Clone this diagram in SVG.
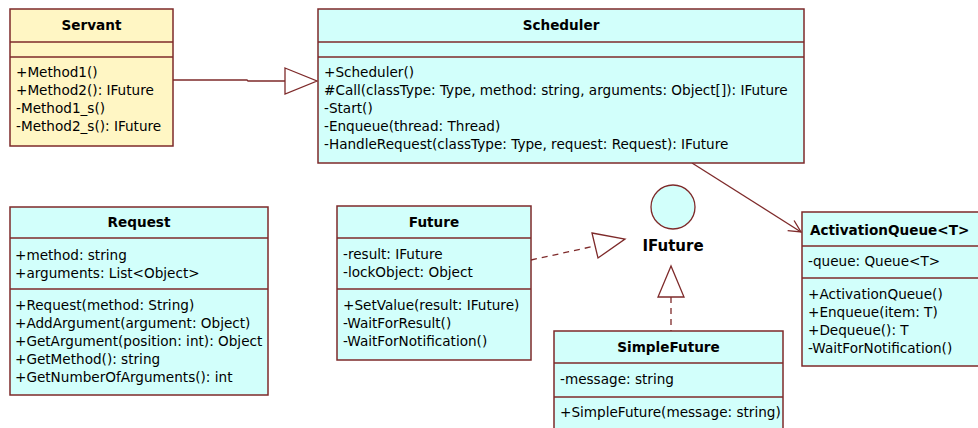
<svg xmlns="http://www.w3.org/2000/svg" width="978" height="428" viewBox="0 0 978 428">
  <style>
    .box { stroke: #7e2a2a; stroke-width: 1.5; }
    .yellow { fill: #fff6c4; }
    .cyan { fill: #d2fffb; }
    .sep { stroke: #7e2a2a; stroke-width: 1.5; }
    .title { font-family: "DejaVu Sans", Verdana, sans-serif; font-size: 13.6px; font-weight: bold; fill: #000; text-anchor: middle; }
    .member { font-family: "DejaVu Sans", Verdana, sans-serif; font-size: 13.6px; fill: #000; }
    .edge { stroke: #7e2a2a; stroke-width: 1.3; fill: none; }
    .dash { stroke-dasharray: 6 5; }
    .head { fill: #fff; stroke: #7e2a2a; stroke-width: 1.3; }
    .iface { font-family: "DejaVu Sans", Verdana, sans-serif; font-size: 15px; font-weight: bold; fill: #000; text-anchor: middle; }
  </style>
  <defs>
    <marker id="open" viewBox="0 0 14 14" refX="13" refY="7" markerWidth="14" markerHeight="14" markerUnits="userSpaceOnUse" orient="auto">
      <path d="M1,1 L13,7 L1,13" fill="none" stroke="#7e2a2a" stroke-width="1.3"/>
    </marker>
  </defs>
  <rect width="978" height="428" fill="#ffffff"/>

  <!-- connectors -->
  <g id="connectors">
    <!-- Servant generalizes to Scheduler -->
    <polyline class="edge" points="173,80 247,80 248,81 285,81"/>
    <polygon class="head" points="285,68 317,81 285,94"/>
    <!-- Scheduler uses ActivationQueue -->
    <line class="edge" x1="692" y1="163" x2="801" y2="232" marker-end="url(#open)"/>
    <!-- Future realizes IFuture -->
    <line class="edge dash" x1="531" y1="260" x2="595" y2="246"/>
    <polygon class="head" points="592,233 625,239 598,258"/>
    <!-- SimpleFuture realizes IFuture -->
    <line class="edge dash" x1="671" y1="297" x2="671" y2="331"/>
    <polygon class="head" points="671,266 658,297 684,297"/>
  </g>

  <g id="servant">
    <rect class="box yellow" x="10" y="9" width="163" height="137"/>
    <line class="sep" x1="10" y1="42" x2="173" y2="42"/>
    <line class="sep" x1="10" y1="57" x2="173" y2="57"/>
    <text class="title" x="91.5" y="30">Servant</text>
    <text class="member" x="16" y="77">+Method1()</text>
    <text class="member" x="16" y="95">+Method2(): IFuture</text>
    <text class="member" x="16" y="113">-Method1_s()</text>
    <text class="member" x="16" y="131">-Method2_s(): IFuture</text>
  </g>

  <g id="scheduler">
    <rect class="box cyan" x="318" y="9" width="486" height="154"/>
    <line class="sep" x1="318" y1="42" x2="804" y2="42"/>
    <line class="sep" x1="318" y1="57" x2="804" y2="57"/>
    <text class="title" x="561" y="30">Scheduler</text>
    <text class="member" x="324" y="77">+Scheduler()</text>
    <text class="member" x="324" y="95">#Call(classType: Type, method: string, arguments: Object[]): IFuture</text>
    <text class="member" x="324" y="113">-Start()</text>
    <text class="member" x="324" y="131">-Enqueue(thread: Thread)</text>
    <text class="member" x="324" y="149">-HandleRequest(classType: Type, request: Request): IFuture</text>
  </g>

  <g id="request">
    <rect class="box cyan" x="10" y="207" width="258" height="188"/>
    <line class="sep" x1="10" y1="238" x2="268" y2="238"/>
    <line class="sep" x1="10" y1="289" x2="268" y2="289"/>
    <text class="title" x="139" y="227">Request</text>
    <text class="member" x="15" y="260">+method: string</text>
    <text class="member" x="15" y="278">+arguments: List&lt;Object&gt;</text>
    <text class="member" x="15" y="310">+Request(method: String)</text>
    <text class="member" x="15" y="328">+AddArgument(argument: Object)</text>
    <text class="member" x="15" y="346">+GetArgument(position: int): Object</text>
    <text class="member" x="15" y="364">+GetMethod(): string</text>
    <text class="member" x="15" y="382">+GetNumberOfArguments(): int</text>
  </g>

  <g id="future">
    <rect class="box cyan" x="337" y="206" width="194" height="154"/>
    <line class="sep" x1="337" y1="238" x2="531" y2="238"/>
    <line class="sep" x1="337" y1="289" x2="531" y2="289"/>
    <text class="title" x="434" y="227">Future</text>
    <text class="member" x="343" y="259">-result: IFuture</text>
    <text class="member" x="343" y="277">-lockObject: Object</text>
    <text class="member" x="343" y="310">+SetValue(result: IFuture)</text>
    <text class="member" x="343" y="328">-WaitForResult()</text>
    <text class="member" x="343" y="346">-WaitForNotification()</text>
  </g>

  <g id="ifuture">
    <circle cx="673" cy="207" r="22" fill="#d2fffb" stroke="#7e2a2a" stroke-width="1.3"/>
    <text class="iface" x="673" y="251">IFuture</text>
  </g>

  <g id="simple-future">
    <rect class="box cyan" x="554" y="331" width="229" height="110"/>
    <line class="sep" x1="554" y1="363" x2="783" y2="363"/>
    <line class="sep" x1="554" y1="397" x2="783" y2="397"/>
    <text class="title" x="668.5" y="352">SimpleFuture</text>
    <text class="member" x="560" y="384">-message: string</text>
    <text class="member" x="560" y="417">+SimpleFuture(message: string)</text>
  </g>

  <g id="activation-queue">
    <rect class="box cyan" x="802" y="212" width="200" height="154"/>
    <line class="sep" x1="802" y1="246" x2="1002" y2="246"/>
    <line class="sep" x1="802" y1="278" x2="1002" y2="278"/>
    <text class="title" x="810" y="235" style="text-anchor:start">ActivationQueue&lt;T&gt;</text>
    <text class="member" x="808" y="266">-queue: Queue&lt;T&gt;</text>
    <text class="member" x="808" y="299">+ActivationQueue()</text>
    <text class="member" x="808" y="317">+Enqueue(item: T)</text>
    <text class="member" x="808" y="335">+Dequeue(): T</text>
    <text class="member" x="808" y="353">-WaitForNotification()</text>
  </g>
</svg>
